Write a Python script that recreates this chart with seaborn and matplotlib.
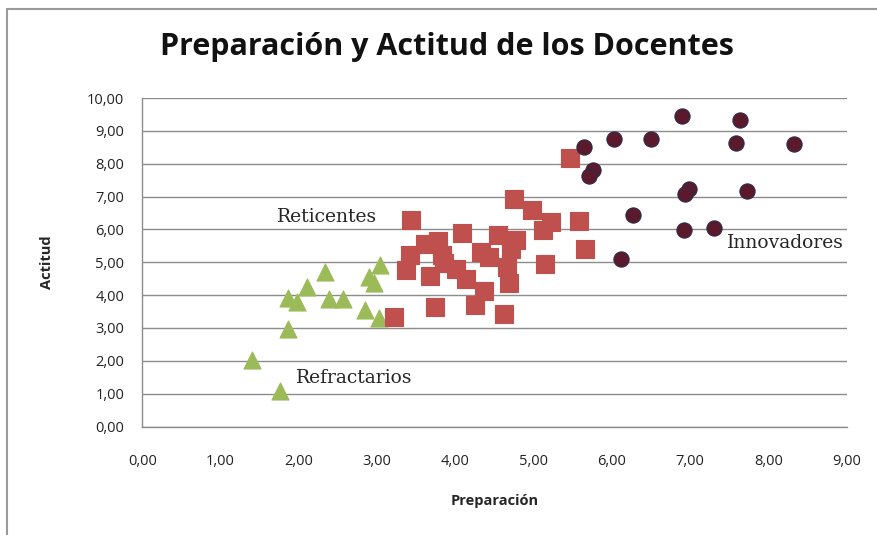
import numpy as np
import pandas as pd
import seaborn as sns
import matplotlib.pyplot as plt
from matplotlib.lines import Line2D
from matplotlib.ticker import FuncFormatter

# Data
refr_x = [2.34, 3.04, 2.11, 1.86, 1.97, 2.39, 2.56, 2.90, 2.96, 2.85, 3.02, 1.86, 1.40, 1.76]
refr_y = [4.69, 4.91, 4.24, 3.91, 3.79, 3.89, 3.89, 4.56, 4.36, 3.54, 3.30, 2.96, 2.03, 1.08]

ret_x = [5.46, 4.75, 4.98, 5.22, 5.12, 5.58, 5.65, 5.14, 3.43, 4.09, 4.55, 4.77, 4.71, 4.33, 4.43, 4.66,
         4.68, 4.37, 4.25, 4.62, 3.74, 3.21, 3.37, 3.42, 3.61, 3.78, 3.83, 3.85, 3.68, 4.01, 4.13]
ret_y = [8.18, 6.93, 6.58, 6.23, 5.97, 6.25, 5.39, 4.96, 6.28, 5.89, 5.84, 5.67, 5.39, 5.31, 5.15, 4.86,
         4.38, 4.12, 3.69, 3.42, 3.65, 3.33, 4.76, 5.21, 5.57, 5.66, 5.21, 4.97, 4.57, 4.79, 4.50]

inn_x = [6.89, 7.64, 6.02, 6.50, 7.59, 8.32, 5.64, 5.76, 5.71, 6.98, 6.93, 7.73, 6.27, 6.92, 7.30, 6.12]
inn_y = [9.44, 9.32, 8.74, 8.74, 8.63, 8.59, 8.50, 7.80, 7.64, 7.24, 7.09, 7.17, 6.43, 5.97, 6.05, 5.09]

groups = ['Refractarios', 'Reticentes', 'Innovadores']

df = pd.concat([
    pd.DataFrame({'Preparacion': refr_x, 'Actitud': refr_y, 'Grupo': groups[0]}),
    pd.DataFrame({'Preparacion': ret_x, 'Actitud': ret_y, 'Grupo': groups[1]}),
    pd.DataFrame({'Preparacion': inn_x, 'Actitud': inn_y, 'Grupo': groups[2]}),
])

sns.set_style('white')
plt.rcParams['font.family'] = ['Open Sans', 'DejaVu Sans']

fig = plt.figure(figsize=(8.77, 5.35), dpi=100)
ax = fig.add_axes([0.1623, 0.2028, 0.8032, 0.614])

palette = {'Refractarios': '#9bbb59', 'Reticentes': '#c0504d', 'Innovadores': '#5b1a2c'}
markers = {'Refractarios': '^', 'Reticentes': 's', 'Innovadores': 'o'}
edges = {'Refractarios': '#9bbb59', 'Reticentes': '#c0504d', 'Innovadores': '#2e2b4a'}

for g in groups:
    sub = df[df['Grupo'] == g]
    sns.scatterplot(data=sub, x='Preparacion', y='Actitud', color=palette[g], marker=markers[g],
                    s=150 if g != 'Innovadores' else 120, edgecolor=edges[g], linewidth=0.8,
                    ax=ax, legend=False, zorder=3)

ax.set_xlim(0, 9)
ax.set_ylim(0, 10)
ax.set_xticks(np.arange(0, 10, 1))
ax.set_yticks(np.arange(0, 11, 1))
fmt = FuncFormatter(lambda v, p: f'{v:.2f}'.replace('.', ','))
ax.xaxis.set_major_formatter(fmt)
ax.yaxis.set_major_formatter(fmt)

ax.grid(axis='y', color='#8c8c8c', linewidth=1.0)
ax.grid(axis='x', visible=False)
ax.set_axisbelow(True)
for side in ['top', 'right']:
    ax.spines[side].set_visible(False)
for side in ['left', 'bottom']:
    ax.spines[side].set_color('#8c8c8c')
    ax.spines[side].set_linewidth(1.0)
ax.tick_params(axis='both', direction='out', length=6, width=1, color='#8c8c8c',
               labelsize=10.5, labelcolor='#222222', pad=7)
ax.tick_params(axis='x', pad=14)

ax.set_xlabel('Preparación', fontsize=10.5, fontweight='bold', labelpad=18)
ax.set_ylabel('Actitud', fontsize=10.5, fontweight='bold', labelpad=24)

fig.text(0.51, 0.912, 'Preparación y Actitud de los Docentes', ha='center', va='center',
         fontsize=22, fontweight='bold', color='#111111')

# group labels
ax.text(2.36, 6.39, 'Reticentes', fontsize=13.5, family='DejaVu Serif', ha='center', va='center')
ax.text(7.47, 5.58, 'Innovadores', fontsize=13.5, family='DejaVu Serif', ha='left', va='center')
ax.text(1.96, 1.47, 'Refractarios', fontsize=13.5, family='DejaVu Serif', ha='left', va='center')

# chart area border (top and left, as in the reference)
fig.add_artist(Line2D([7 / 877, 7 / 877], [0, 1 - 9 / 535], transform=fig.transFigure, color='#9a9a9a', lw=1.5))
fig.add_artist(Line2D([7 / 877, 1], [1 - 9 / 535, 1 - 9 / 535], transform=fig.transFigure, color='#9a9a9a', lw=1.5))

fig.savefig('out.png', dpi=100)
